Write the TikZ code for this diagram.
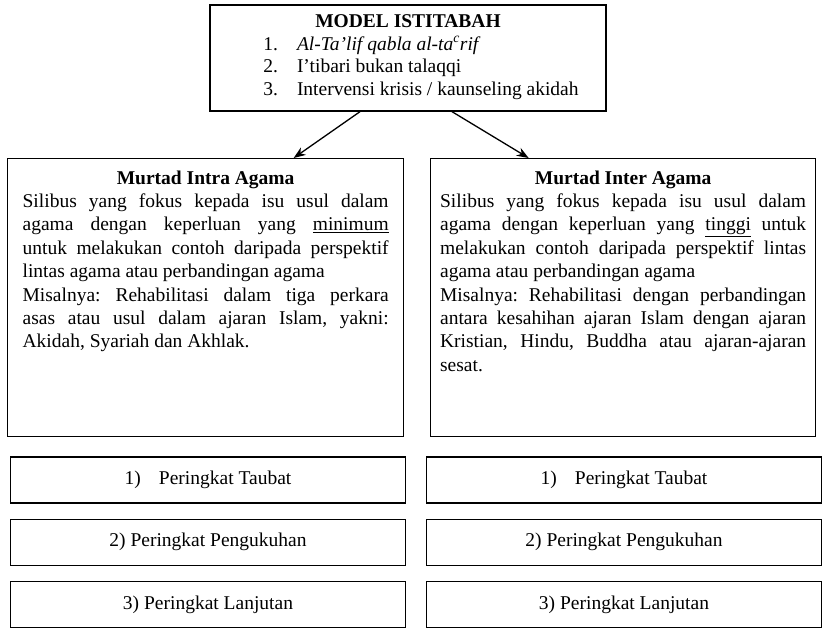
\documentclass[tikz,border=0pt]{standalone}
\usepackage{fontspec}
\setmainfont{Liberation Serif}
\usetikzlibrary{arrows.meta, positioning}
\renewcommand{\arraystretch}{0.96}
\frenchspacing

\begin{document}
\begin{tikzpicture}[x=1pt, y=-1pt, node distance=15pt, font=\fontsize{19.5}{23.4}\selectfont]
    \tikzstyle{topbox} = [rectangle, draw=black, line width=1.3pt, minimum width=396pt, minimum height=106pt, align=center, inner sep=2pt]
    \tikzstyle{bigbox} = [rectangle, draw=black, line width=1.3pt, anchor=north west, inner xsep=15pt, inner ysep=12pt]
    \tikzstyle{stagebox} = [rectangle, draw=black, line width=1.3pt, minimum width=395pt, minimum height=46pt, inner sep=0pt]
    \tikzstyle{arrow} = [line width=1.3pt, -{Stealth[length=12pt, width=9pt]}]

    \useasboundingbox (0,0) rectangle (827,633);

    \node (model) [topbox] at (408,58) {\textbf{MODEL ISTITABAH}\\[6pt]
        \begin{tabular}{@{\hspace{26pt}}l@{\hspace{19pt}}l@{}}
        1. & \textit{Al-Ta'lif qabla al-ta\textsuperscript{c}rif}\\
        2. & I'tibari bukan talaqqi\\
        3. & Intervensi krisis / kaunseling akidah
        \end{tabular}};

    \node (intra) [bigbox] at (7,158) {\parbox[t][254pt][t]{366pt}{{\centering\textbf{Murtad Intra Agama}\par}
        Silibus yang fokus kepada isu usul dalam\linebreak
        agama dengan keperluan yang \underline{minimum}\linebreak
        untuk melakukan contoh daripada perspektif\linebreak
        lintas agama atau perbandingan agama\par
        Misalnya: Rehabilitasi dalam tiga perkara\linebreak
        asas atau usul dalam ajaran Islam, yakni:\linebreak
        Akidah, Syariah dan Akhlak.}};
    \node (inter) [bigbox, inner xsep=9.5pt] at (430,158) {\parbox[t][254pt][t]{366pt}{{\centering\textbf{Murtad Inter Agama}\par}
        Silibus yang fokus kepada isu usul dalam\linebreak
        agama dengan keperluan yang \underline{tinggi} untuk\linebreak
        melakukan contoh daripada perspektif lintas\linebreak
        agama atau perbandingan agama\par
        Misalnya: Rehabilitasi dengan perbandingan\linebreak
        antara kesahihan ajaran Islam dengan ajaran\linebreak
        Kristian, Hindu, Buddha atau ajaran-ajaran\linebreak
        sesat.}};

    \node (taubatL) [stagebox] at (208,480) {1)\hspace{18pt}Peringkat Taubat};
    \node (kukuhL) [stagebox, below=of taubatL] {2) Peringkat Pengukuhan};
    \node (lanjutL) [stagebox, below=of kukuhL] {3) Peringkat Lanjutan};

    \node (taubatR) [stagebox] at (624,480) {1)\hspace{18pt}Peringkat Taubat};
    \node (kukuhR) [stagebox, below=of taubatR] {2) Peringkat Pengukuhan};
    \node (lanjutR) [stagebox, below=of kukuhR] {3) Peringkat Lanjutan};

    \draw [arrow] ([xshift=-48pt]model.south) -- ([xshift=88pt]intra.north);
    \draw [arrow] ([xshift=44pt]model.south) -- ([xshift=-94.5pt]inter.north);
\end{tikzpicture}
\end{document}
